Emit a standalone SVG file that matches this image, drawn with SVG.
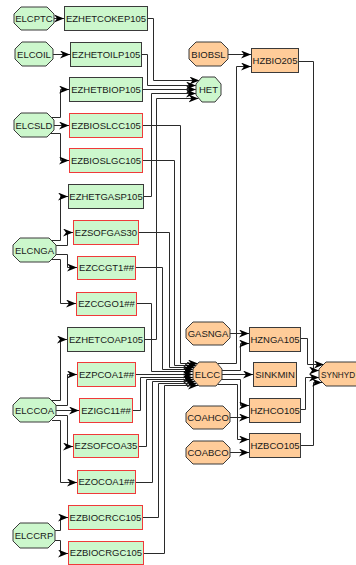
<svg xmlns="http://www.w3.org/2000/svg" width="356" height="565" viewBox="0 0 356 565">
<defs>
<style>
.g{fill:#ccf7cc;stroke:#3a3a3a;stroke-width:1}
.gr{fill:#ccf7cc;stroke:#f03a3a;stroke-width:1}
.o{fill:#ffcc99;stroke:#3a3a3a;stroke-width:1}
text{font-family:"Liberation Sans",Arial,sans-serif;font-size:9.5px;fill:#1a1a1a;text-anchor:middle}
#connectors path{fill:none;stroke:#2a2a2a;stroke-width:1;marker-end:url(#arr)}
</style>
<marker id="arr" viewBox="0 0 10 8" markerWidth="10" markerHeight="8" refX="10" refY="4" orient="auto" markerUnits="userSpaceOnUse">
<path d="M0,0 L10,4 L0,8 L3,4 z" fill="#000"/>
</marker>
</defs>
<rect width="356" height="565" fill="#fff"/>
<g id="connectors">
<path d="M54,18.5 H64"/>
<path d="M53,54.5 H70"/>
<path d="M50,117.5 H60.5 V89.5 H69"/>
<path d="M54,125.5 H69"/>
<path d="M50,133.5 H60.5 V160.5 H69"/>
<path d="M52,240.5 H60.5 V196.5 H68"/>
<path d="M55,245.5 H67.5 V232.5 H73"/>
<path d="M55,254.5 H67.5 V267.5 H77"/>
<path d="M52,259.5 H60.5 V303.5 H76"/>
<path d="M52,400.5 H60.5 V339.5 H67"/>
<path d="M55,405.5 H67.5 V374.5 H77"/>
<path d="M56,410.5 H79"/>
<path d="M55,415.5 H67.5 V446.5 H73"/>
<path d="M52,420.5 H60.5 V482.5 H77"/>
<path d="M52,530.5 H60.5 V517.5 H68"/>
<path d="M52,540.5 H60.5 V553.5 H68"/>
<path d="M148,18.5 H153.5 V80.5 H199.5"/>
<path d="M142,54.5 H147.5 V85.5 H196"/>
<path d="M143,89.5 H196"/>
<path d="M144,196.5 H151.5 V93.5 H196"/>
<path d="M145,339.5 H156.5 V98.5 H198.5"/>
<path d="M143,125.5 H180.5 V363.5 H198"/>
<path d="M143,160.5 H174.5 V365.5 H196.5"/>
<path d="M139,232.5 H169.5 V367.5 H194.5"/>
<path d="M136,267.5 H162.5 V369.5 H193"/>
<path d="M137,303.5 H151.5 V371.5 H193"/>
<path d="M136,374.5 H193"/>
<path d="M133,410.5 H140.5 V377.5 H193"/>
<path d="M139,446.5 H146.5 V379.5 H193"/>
<path d="M136,482.5 H152.5 V381.5 H195"/>
<path d="M143,517.5 H158.5 V383.5 H196.5"/>
<path d="M144,553.5 H164.5 V385.5 H198"/>
<path d="M228,54.5 H251"/>
<path d="M218,363.5 H236.5 V66.5 H251"/>
<path d="M230,333.5 H249"/>
<path d="M222,370.5 H240.5 V343.5 H249"/>
<path d="M222,374.5 H253"/>
<path d="M222,379.5 H240.5 V405.5 H249"/>
<path d="M218,384.5 H237.5 V439.5 H249"/>
<path d="M230,417.5 H249"/>
<path d="M230,452.5 H249"/>
<path d="M299,61.5 H313.5 V370.5 H319"/>
<path d="M301,338.5 H307.5 V364.5 H324"/>
<path d="M301,409.5 H305.5 V377.5 H319"/>
<path d="M301,445.5 H313.5 V382.5 H322"/>
</g>
<g id="ELCPTC"><polygon class="g" points="21,7 47,7 54,14 54,23 47,30 21,30 14,23 14,14"/><text x="34" y="22">ELCPTC</text></g>
<g id="EZHETCOKEP105"><rect class="g" x="64.5" y="6.5" width="83" height="24"/><text x="106" y="22">EZHETCOKEP105</text></g>
<g id="ELCOIL"><polygon class="g" points="22,42 46,42 53,49 53,59 46,66 22,66 15,59 15,49"/><text x="34" y="58">ELCOIL</text></g>
<g id="EZHETOILP105"><rect class="g" x="70.5" y="42.5" width="71" height="24"/><text x="106" y="58">EZHETOILP105</text></g>
<g id="EZHETBIOP105"><rect class="g" x="69.5" y="77.5" width="73" height="24"/><text x="106" y="93">EZHETBIOP105</text></g>
<g id="ELCSLD"><polygon class="g" points="21,113 47,113 54,120 54,130 47,137 21,137 14,130 14,120"/><text x="34" y="129">ELCSLD</text></g>
<g id="EZBIOSLCC105"><rect class="gr" x="69.5" y="113.5" width="73" height="24"/><text x="106" y="129">EZBIOSLCC105</text></g>
<g id="EZBIOSLGC105"><rect class="gr" x="69.5" y="148.5" width="73" height="24"/><text x="106" y="164">EZBIOSLGC105</text></g>
<g id="EZHETGASP105"><rect class="g" x="68.5" y="184.5" width="75" height="24"/><text x="106" y="200">EZHETGASP105</text></g>
<g id="EZSOFGAS30"><rect class="gr" x="73.5" y="220.5" width="65" height="24"/><text x="106" y="236">EZSOFGAS30</text></g>
<g id="ELCNGA"><polygon class="g" points="20,238 49,238 56,245 56,255 49,262 20,262 13,255 13,245"/><text x="34.5" y="254">ELCNGA</text></g>
<g id="EZCCGT1"><rect class="gr" x="77.5" y="256.5" width="58" height="23"/><text x="106.5" y="271">EZCCGT1##</text></g>
<g id="EZCCGO1"><rect class="gr" x="76.5" y="292.5" width="60" height="23"/><text x="106.5" y="307">EZCCGO1##</text></g>
<g id="EZHETCOAP105"><rect class="g" x="67.5" y="327.5" width="77" height="24"/><text x="106" y="343">EZHETCOAP105</text></g>
<g id="EZPCOA1"><rect class="gr" x="77.5" y="362.5" width="58" height="24"/><text x="106.5" y="378">EZPCOA1##</text></g>
<g id="ELCCOA"><polygon class="g" points="20,398 49,398 56,405 56,415 49,422 20,422 13,415 13,405"/><text x="34.5" y="414">ELCCOA</text></g>
<g id="EZIGC11"><rect class="gr" x="79.5" y="398.5" width="53" height="24"/><text x="106" y="414">EZIGC11##</text></g>
<g id="EZSOFCOA35"><rect class="gr" x="73.5" y="434.5" width="65" height="23"/><text x="106" y="449">EZSOFCOA35</text></g>
<g id="EZOCOA1"><rect class="gr" x="77.5" y="470.5" width="58" height="23"/><text x="106.5" y="485">EZOCOA1##</text></g>
<g id="EZBIOCRCC105"><rect class="gr" x="68.5" y="505.5" width="74" height="24"/><text x="105.5" y="521">EZBIOCRCC105</text></g>
<g id="ELCCRP"><polygon class="g" points="20,523 48,523 55,530 55,541 48,548 20,548 13,541 13,530"/><text x="34" y="539">ELCCRP</text></g>
<g id="EZBIOCRGC105"><rect class="gr" x="68.5" y="541.5" width="75" height="23"/><text x="106" y="556">EZBIOCRGC105</text></g>
<g id="HET"><polygon class="g" points="202,77 215,77 221,84 221,95 215,102 202,102 196,95 196,84"/><text x="208.5" y="93">HET</text></g>
<g id="BIOBSL"><polygon class="o" points="196,42 221,42 228,49 228,59 221,66 196,66 189,59 189,49"/><text x="208.5" y="58">BIOBSL</text></g>
<g id="HZBIO205"><rect class="o" x="251.5" y="48.5" width="47" height="24"/><text x="275" y="64">HZBIO205</text></g>
<g id="GASNGA"><polygon class="o" points="193,322 223,322 230,329 230,338 223,345 193,345 186,338 186,329"/><text x="208" y="337">GASNGA</text></g>
<g id="HZNGA105"><rect class="o" x="249.5" y="327.5" width="51" height="24"/><text x="275" y="343">HZNGA105</text></g>
<g id="ELCC"><polygon class="o" points="199,362 216,362 222,369 222,379 216,386 199,386 193,379 193,369"/><text x="207.5" y="378">ELCC</text></g>
<g id="SINKMIN"><rect class="o" x="253.5" y="362.5" width="43" height="24"/><text x="275" y="378">SINKMIN</text></g>
<g id="SYNHYD"><polygon class="o" points="326,362 356,362 363,369 363,379 356,386 326,386 319,379 319,369"/><text x="321" y="377.5" style="text-anchor:start;font-size:8.2px">SYNHYD</text></g>
<g id="COAHCO"><polygon class="o" points="193,406 223,406 230,413 230,422 223,429 193,429 186,422 186,413"/><text x="208" y="421">COAHCO</text></g>
<g id="HZHCO105"><rect class="o" x="249.5" y="398.5" width="51" height="24"/><text x="275" y="414">HZHCO105</text></g>
<g id="COABCO"><polygon class="o" points="193,441 223,441 230,448 230,457 223,464 193,464 186,457 186,448"/><text x="208" y="456">COABCO</text></g>
<g id="HZBCO105"><rect class="o" x="249.5" y="433.5" width="51" height="24"/><text x="275" y="449">HZBCO105</text></g>
</svg>
